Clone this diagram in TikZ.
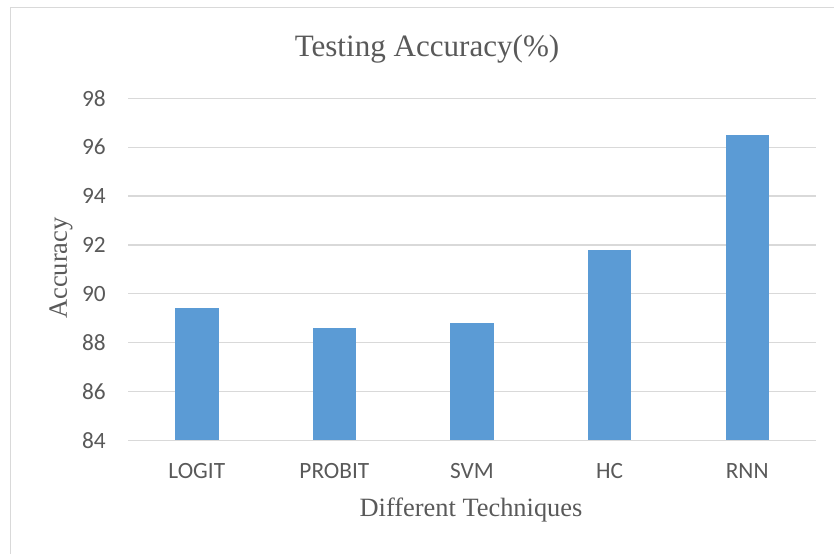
\documentclass[tikz,border=0pt]{standalone}
\usepackage{fontspec}
\setmainfont{Liberation Serif}
\newfontfamily\tickfont{Carlito}
\begin{document}
\begin{tikzpicture}[x=1bp,y=-1bp,
  grid/.style={draw=gridgray,line width=1.3bp},
  bar/.style={fill=barblue,draw=none},
  ticklbl/.style={text=labgray,font=\tickfont\fontsize{23.4}{26}\selectfont,inner sep=0pt},
  axtitle/.style={text=labgray,font=\fontsize{26.5}{30}\selectfont,inner sep=0pt},
]
\definecolor{gridgray}{HTML}{D9D9D9}
\definecolor{barblue}{HTML}{5B9BD5}
\definecolor{labgray}{HTML}{595959}
\useasboundingbox (0,0) rectangle (834,554);
% chart frame (runs off the page on the right and bottom)
\draw[gridgray,line width=1bp] (10,560) -- (10,8) -- (840,8);
% title
\node[text=labgray,font=\fontsize{31.2}{36}\selectfont,inner sep=0pt] (title) at (427,49) {Testing Accuracy(\%)};
% horizontal grid lines and value labels, 84..98
\foreach \v [count=\i from 0] in {84,86,88,90,92,94,96,98} {
  \pgfmathsetmacro{\yy}{440.3-\i*48.857}
  \draw[grid] (128,\yy) -- (816,\yy);
  \node[ticklbl,anchor=east] (tick\v) at (106,\yy) {\v};
}
% bars
\foreach \name/\val [count=\i from 0] in {LOGIT/89.4,PROBIT/88.6,SVM/88.8,HC/91.8,RNN/96.5} {
  \pgfmathsetmacro{\cx}{128+68.8+\i*137.6}
  \pgfmathsetmacro{\top}{440.3-(\val-84)*24.4286}
  \fill[bar] (\cx-21.7,440.3) rectangle (\cx+21.7,\top);
  \node[ticklbl] (cat\name) at (\cx,471) {\name};
}
% axis titles
\node[axtitle] (xtitle) at (471,510) {Different Techniques};
\node[axtitle,rotate=90] (ytitle) at (61,268) {Accuracy};
\end{tikzpicture}
\end{document}
